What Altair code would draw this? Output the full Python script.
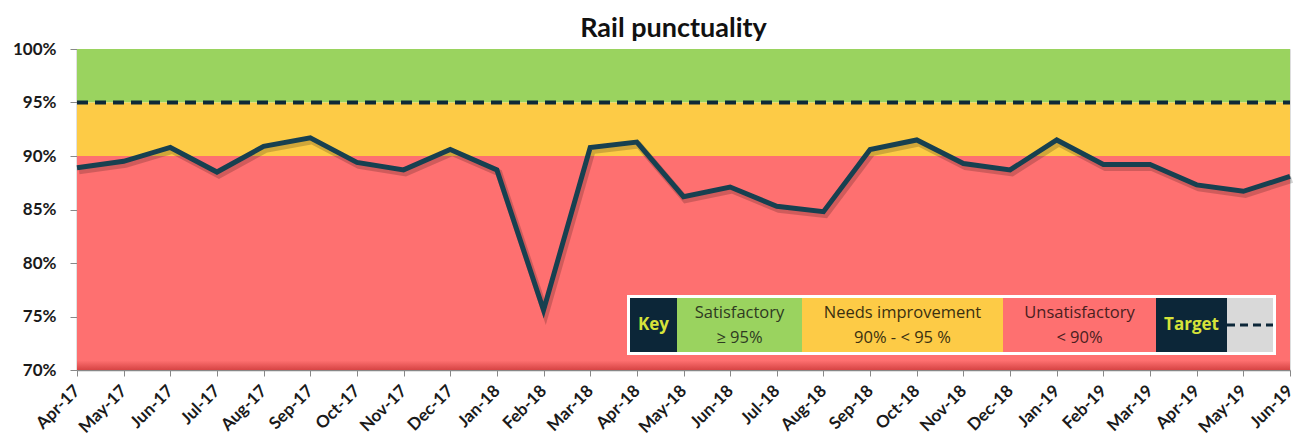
import altair as alt
import pandas as pd

# ---------------- data ----------------
months = ["Apr-17", "May-17", "Jun-17", "Jul-17", "Aug-17", "Sep-17", "Oct-17", "Nov-17",
          "Dec-17", "Jan-18", "Feb-18", "Mar-18", "Apr-18", "May-18", "Jun-18", "Jul-18",
          "Aug-18", "Sep-18", "Oct-18", "Nov-18", "Dec-18", "Jan-19", "Feb-19", "Mar-19",
          "Apr-19", "May-19", "Jun-19"]
punctuality = [88.9, 89.5, 90.8, 88.5, 90.9, 91.7, 89.4, 88.7,
               90.6, 88.7, 75.6, 90.8, 91.3, 86.2, 87.1, 85.3,
               84.8, 90.6, 91.5, 89.3, 88.7, 91.5, 89.2, 89.2,
               87.3, 86.7, 88.1]
target = [95]
y_ticks = [70, 75, 80, 85, 90, 95, 100]

band_names = ["Satisfactory", "Needs improvement", "Unsatisfactory"]
band_low = [95, 90, 70]
band_high = [100, 95, 90]
band_colors = ["#9AD35F", "#FDCB46", "#FE7070"]

key_titles = ["Key", "Satisfactory", "Needs improvement", "Unsatisfactory", "Target", ""]
key_subtitles = ["", "\u2265 95%", "90% - < 95 %", "< 90%", "", ""]
key_fill = ["#0C2638", "#9AD35F", "#FDCB46", "#FE7070", "#0C2638", "#D9D9D9"]
key_text_color = ["#D6E33A", "#2E3A22", "#3A3010", "#4A1E1E", "#D6E33A", "#0C2638"]
key_widths = [47, 125, 201, 153, 71, 46]

# ---------------- layout ----------------
W, H = 1213, 321
FONT = "Lato"
KFONT = "Open Sans"

df = pd.DataFrame({"month": months, "value": punctuality})
bands = pd.DataFrame({"name": band_names, "lo": band_low, "hi": band_high, "color": band_colors})
tgt = pd.DataFrame({"target": target})

x0 = 553
xs = []
acc = x0
for w in key_widths:
    xs.append(acc)
    acc += w
key = pd.DataFrame({
    "title": key_titles, "sub": key_subtitles, "fill": key_fill, "tcolor": key_text_color,
    "x1": xs, "x2": [a + w for a, w in zip(xs, key_widths)],
})
key["xc"] = (key["x1"] + key["x2"]) / 2
key_top, key_bot = 249, 303

yscale = alt.Scale(domain=[70, 100], nice=False, zero=False)
xscale = alt.Scale(type="point", padding=0, domain=months)
yaxis = alt.Axis(title=None, values=y_ticks,
                 labelExpr="datum.value + '%'", labelFont=FONT, labelFontSize=17,
                 labelFontWeight="bold", labelColor="#1A1A1A", labelPadding=14,
                 tickSize=7, tickColor="#888", domainColor="#888", domainWidth=1.5,
                 grid=False)
xaxis = alt.Axis(title=None, labelAngle=-45, labelAlign="right", labelBaseline="middle",
                 labelFont=FONT, labelFontSize=17, labelFontWeight="bold",
                 labelColor="#1A1A1A", labelPadding=12, tickSize=6, tickColor="#888",
                 domainColor="#888", domainWidth=1.5, labelOverlap=False)

band_layer = alt.Chart(bands).mark_rect().encode(
    x=alt.value(0), x2=alt.value(W),
    y=alt.Y("lo:Q", scale=yscale, axis=yaxis), y2="hi:Q",
    color=alt.Color("color:N", scale=None),
)

bottom_shade = alt.Chart(pd.DataFrame({"lo": [70], "hi": [70.9]})).mark_rect(
    color=alt.Gradient(gradient="linear", x1=0, y1=0, x2=0, y2=1,
                       stops=[alt.GradientStop(color="#FE7070", offset=0),
                              alt.GradientStop(color="#D64444", offset=1)])
).encode(
    x=alt.value(0), x2=alt.value(W),
    y=alt.Y("lo:Q", scale=yscale, axis=yaxis), y2="hi:Q",
)

target_layer = alt.Chart(tgt).mark_rule(
    color="#0E2A38", strokeWidth=4, strokeDash=[11, 7]
).encode(
    x=alt.value(0), x2=alt.value(W),
    y=alt.Y("target:Q", scale=yscale, axis=yaxis),
)

shadow_layer = alt.Chart(df).mark_line(
    color="#000000", strokeWidth=7, opacity=0.18, xOffset=2, yOffset=3
).encode(
    x=alt.X("month:O", scale=xscale, sort=months, axis=xaxis),
    y=alt.Y("value:Q", scale=yscale, axis=yaxis),
)

line_layer = alt.Chart(df).mark_line(
    color="#174050", strokeWidth=5, strokeJoin="miter"
).encode(
    x=alt.X("month:O", scale=xscale, sort=months, axis=xaxis),
    y=alt.Y("value:Q", scale=yscale, axis=yaxis),
)

key_border = alt.Chart(pd.DataFrame({"a": [0]})).mark_rect(color="#FFFFFF").encode(
    x=alt.value(x0 - 3), x2=alt.value(acc + 3),
    y=alt.value(key_top - 3), y2=alt.value(key_bot + 3),
)

key_cells = alt.Chart(key).mark_rect().encode(
    x=alt.X("x1:Q", scale=None), x2="x2:Q",
    y=alt.value(key_top), y2=alt.value(key_bot),
    color=alt.Color("fill:N", scale=None),
)

key_big = alt.Chart(key[key["sub"] == ""]).mark_text(
    font=KFONT, fontSize=17, fontWeight="bold", baseline="middle", align="center"
).encode(
    x=alt.X("xc:Q", scale=None), y=alt.value((key_top + key_bot) / 2),
    text="title:N", color=alt.Color("tcolor:N", scale=None),
)

key_line1 = alt.Chart(key[key["sub"] != ""]).mark_text(
    font=KFONT, fontSize=16.5, baseline="middle", align="center"
).encode(
    x=alt.X("xc:Q", scale=None), y=alt.value(key_top + 15),
    text="title:N", color=alt.Color("tcolor:N", scale=None),
)

key_line2 = alt.Chart(key[key["sub"] != ""]).mark_text(
    font=KFONT, fontSize=16.5, baseline="middle", align="center"
).encode(
    x=alt.X("xc:Q", scale=None), y=alt.value(key_top + 40),
    text="sub:N", color=alt.Color("tcolor:N", scale=None),
)

grey_cell = key.iloc[[5]]
key_dash = alt.Chart(grey_cell).mark_rule(
    color="#0C2638", strokeWidth=3, strokeDash=[8, 5]
).encode(
    x=alt.X("x1:Q", scale=None), x2="x2:Q",
    y=alt.value((key_top + key_bot) / 2),
)

chart = alt.layer(
    band_layer, bottom_shade, target_layer, shadow_layer, line_layer,
    key_border, key_cells, key_big, key_line1, key_line2, key_dash,
).properties(
    width=W, height=H,
    title=alt.TitleParams("Rail punctuality", font=FONT, fontSize=27, fontWeight="bold",
                          color="#111111", anchor="middle", offset=11, dx=-10, dy=14),
    padding={"left": 77, "top": 49, "right": 7, "bottom": 75},
    autosize=alt.AutoSizeParams(type="none"),
).configure_view(stroke=None).configure(background="white")

chart.save("out.html", embed_options={"renderer": "svg", "actions": False})
